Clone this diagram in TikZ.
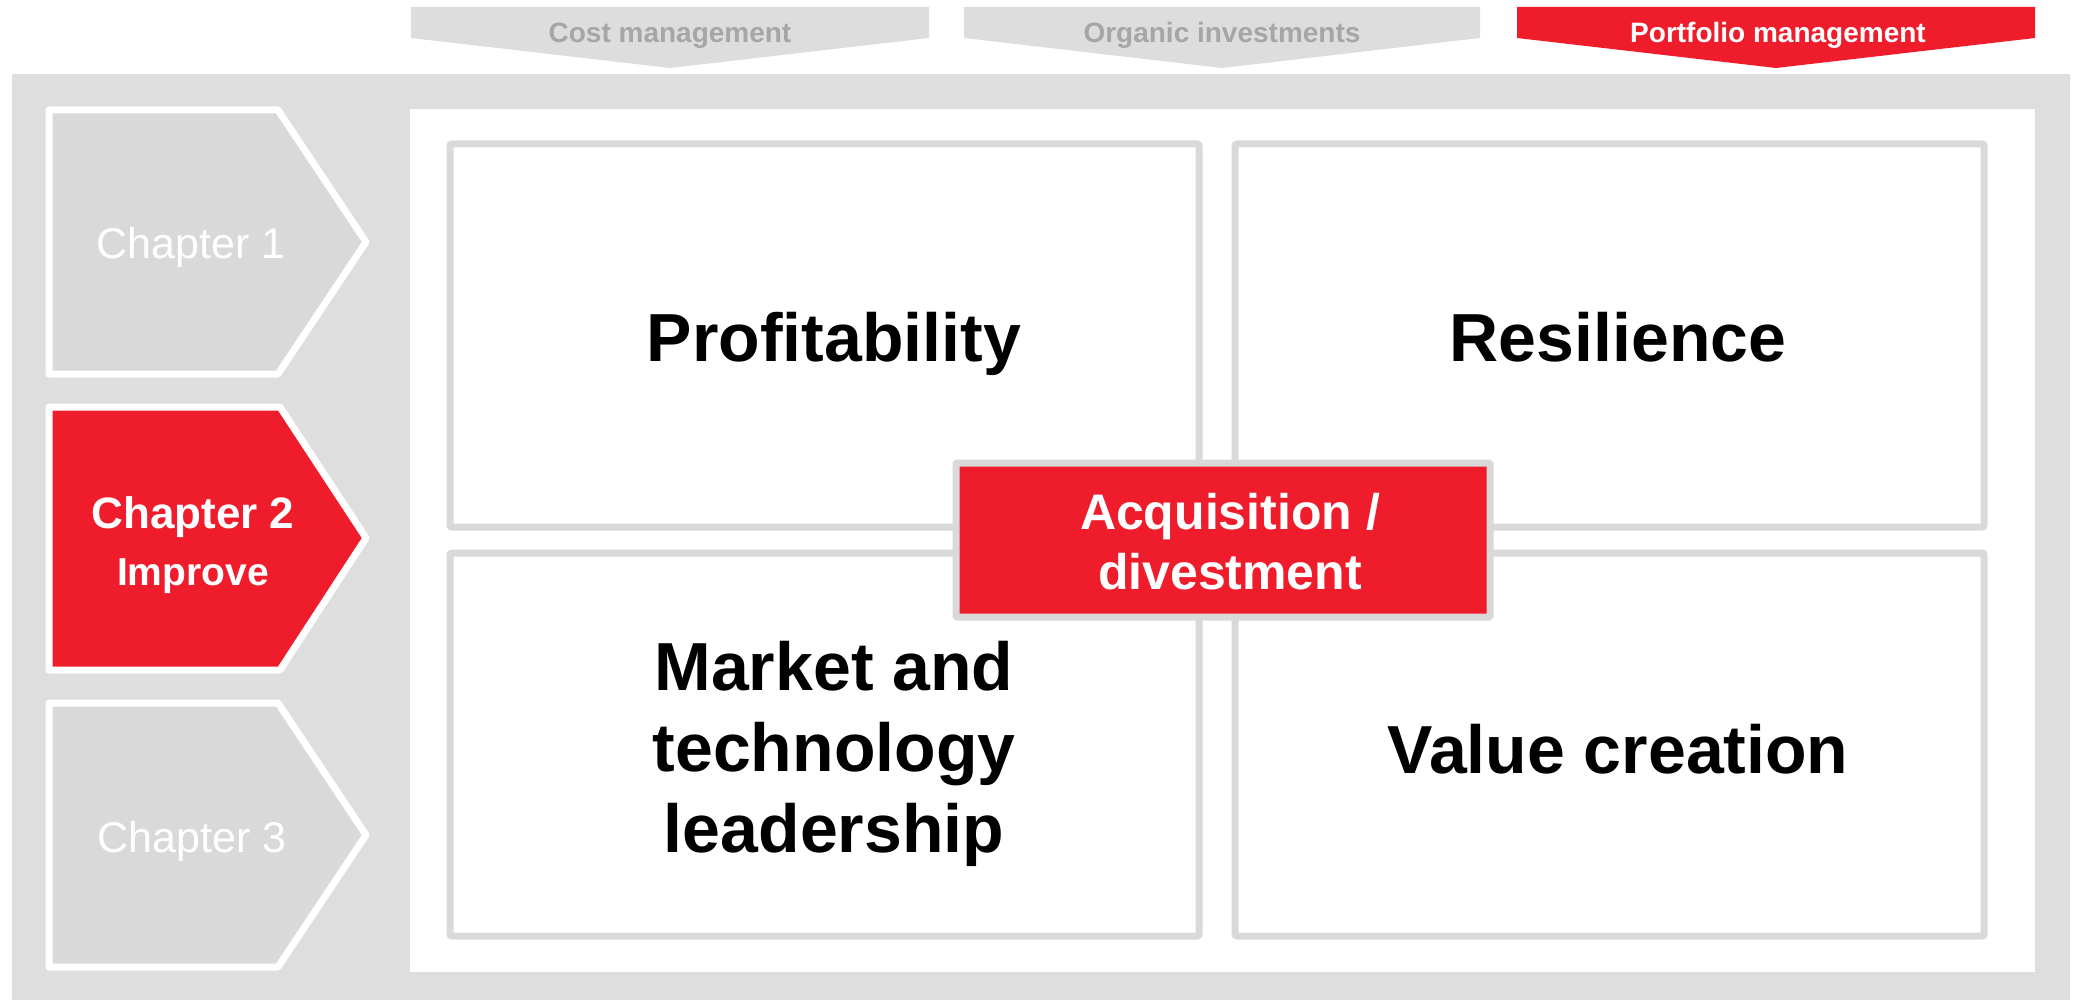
\documentclass[tikz,border=0pt]{standalone}
\usepackage{fontspec}
\setmainfont{Liberation Sans}
\definecolor{framegray}{HTML}{DEDEDE}
\definecolor{chapfill}{HTML}{D9D9D9}
\definecolor{boxline}{HTML}{D9D9D9}
\definecolor{tabfill}{HTML}{DDDDDD}
\definecolor{tabtext}{HTML}{A6A6A6}
\definecolor{accent}{HTML}{EF1C2C}
\begin{document}
\begin{tikzpicture}[x=1pt,y=-1pt,
  quad/.style={draw=boxline, line width=7pt, fill=white, rounded corners=2pt},
  chapshape/.style={draw=white, line width=7pt, line join=round},
  bigtext/.style={font=\fontsize{68}{81}\selectfont\bfseries, inner sep=0pt, align=center, text=black},
  tablabel/.style={font=\fontsize{28}{34}\selectfont\bfseries, inner sep=0pt, anchor=base},
  chaplabel/.style={font=\fontsize{43}{52}\selectfont, text=white, inner sep=0pt, anchor=base}
]
\useasboundingbox (0,0) rectangle (2078,1000);
% frame
\fill[framegray] (12,74) rectangle (2070,1000);
\fill[white] (410,109) rectangle (2035,972);
% quadrant boxes
\draw[quad] (450,144) rectangle (1199,527);
\draw[quad] (1235,144) rectangle (1984,527);
\draw[quad] (450,553) rectangle (1199,936);
\draw[quad] (1235,553) rectangle (1984,936);
% texts
\node[bigtext, anchor=base] (profit) at (834,362) {Profitability};
\node[bigtext, anchor=base] (resil) at (1618,362) {Resilience};
\node[bigtext, anchor=base] (value) at (1618,773) {Value creation};
\node[bigtext, anchor=north] (market) at (834,633.3) {\strut Market and\\\strut technology\\\strut leadership};
% acquisition box
\draw[draw=boxline, line width=7pt, fill=accent, rounded corners=1pt] (956,463) rectangle (1490,617);
\node[font=\fontsize{50}{60}\selectfont\bfseries, text=white, inner sep=0pt, align=center, anchor=north] (acq) at (1230,487) {\strut Acquisition /\\\strut divestment};
% chapters
\draw[chapshape, fill=chapfill] (49,110) -- (278,110) -- (366,242) -- (278,374) -- (49,374) -- cycle;
\draw[chapshape, fill=accent] (49,407) -- (280,407) -- (366,538) -- (280,670) -- (49,670) -- cycle;
\draw[chapshape, fill=chapfill] (49,703) -- (278,703) -- (366,835) -- (278,967) -- (49,967) -- cycle;
\node[chaplabel] (ch1) at (191,259) {Chapter 1};
\node[font=\fontsize{44}{57}\selectfont\bfseries, text=white, inner sep=0pt, align=center, anchor=north] (ch2) at (193,488.1) {\strut Chapter 2\\{\fontsize{39}{57}\selectfont\bfseries\strut Improve}};
\node[chaplabel] (ch3) at (192,852) {Chapter 3};
% tabs
\fill[tabfill] (411,7) -- (929,7) -- (929,38) -- (670,68) -- (411,38) -- cycle;
\fill[tabfill] (964,7) -- (1480,7) -- (1480,38) -- (1222,68) -- (964,38) -- cycle;
\fill[accent] (1517,7) -- (2035,7) -- (2035,38) -- (1776,68) -- (1517,38) -- cycle;
\node[tablabel, text=tabtext] (cost) at (670,43) {Cost management};
\node[tablabel, text=tabtext] (organic) at (1222,43) {Organic investments};
\node[tablabel, text=white] (portfolio) at (1778,43) {Portfolio management};
\end{tikzpicture}
\end{document}
